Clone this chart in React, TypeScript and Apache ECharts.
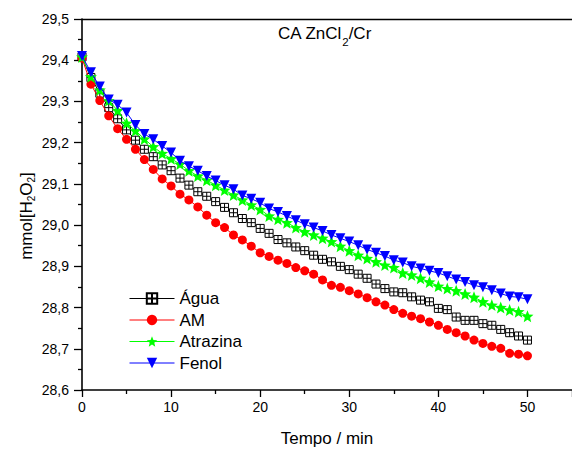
import React, { useEffect, useRef } from 'react';
import * as echarts from 'echarts';

const times = [0, 1, 2, 3, 4, 5, 6, 7, 8, 9, 10, 11, 12, 13, 14, 15, 16, 17, 18, 19, 20, 21, 22, 23, 24, 25, 26, 27, 28, 29, 30, 31, 32, 33, 34, 35, 36, 37, 38, 39, 40, 41, 42, 43, 44, 45, 46, 47, 48, 49, 50];

const agua = [29.408, 29.358, 29.320, 29.285, 29.258, 29.231, 29.206, 29.184, 29.166, 29.146, 29.132, 29.114, 29.097, 29.081, 29.070, 29.057, 29.043, 29.030, 29.016, 29.006, 28.992, 28.980, 28.965, 28.957, 28.947, 28.938, 28.927, 28.917, 28.911, 28.900, 28.892, 28.881, 28.871, 28.857, 28.846, 28.838, 28.836, 28.826, 28.818, 28.814, 28.798, 28.795, 28.777, 28.769, 28.769, 28.761, 28.757, 28.747, 28.739, 28.731, 28.721];

const am = [29.405, 29.342, 29.302, 29.265, 29.234, 29.208, 29.184, 29.159, 29.135, 29.112, 29.095, 29.075, 29.061, 29.044, 29.024, 29.006, 28.994, 28.976, 28.964, 28.949, 28.933, 28.924, 28.915, 28.907, 28.897, 28.889, 28.881, 28.867, 28.854, 28.849, 28.841, 28.833, 28.824, 28.814, 28.806, 28.795, 28.786, 28.779, 28.773, 28.765, 28.757, 28.747, 28.739, 28.731, 28.721, 28.713, 28.706, 28.701, 28.689, 28.687, 28.683];

const atrazina = [29.408, 29.360, 29.328, 29.302, 29.278, 29.247, 29.229, 29.209, 29.190, 29.174, 29.161, 29.148, 29.132, 29.119, 29.109, 29.097, 29.085, 29.073, 29.061, 29.049, 29.038, 29.022, 29.014, 29.006, 28.994, 28.984, 28.976, 28.968, 28.960, 28.949, 28.938, 28.927, 28.919, 28.911, 28.903, 28.897, 28.884, 28.879, 28.871, 28.862, 28.852, 28.846, 28.841, 28.833, 28.825, 28.814, 28.806, 28.800, 28.794, 28.790, 28.779];

const fenol = [29.410, 29.371, 29.336, 29.305, 29.292, 29.273, 29.243, 29.221, 29.208, 29.192, 29.176, 29.156, 29.143, 29.132, 29.119, 29.108, 29.097, 29.087, 29.072, 29.064, 29.054, 29.040, 29.032, 29.022, 29.012, 29.002, 28.994, 28.986, 28.976, 28.968, 28.960, 28.951, 28.941, 28.933, 28.925, 28.915, 28.909, 28.900, 28.895, 28.889, 28.884, 28.876, 28.868, 28.862, 28.854, 28.849, 28.842, 28.834, 28.827, 28.825, 28.820];

const seriesNames = ['Água', 'AM', 'Atrazina', 'Fenol'];
const yTicks = [28.6, 28.7, 28.8, 28.9, 29.0, 29.1, 29.2, 29.3, 29.4, 29.5];
const xTicks = [0, 10, 20, 30, 40, 50];

const FONT = '"Liberation Sans", Arial, sans-serif';

const SQUARE_GRID = 'path://M0,0L10,0L10,10L0,10Z M5,0L5,10 M0,5L10,5';
const STAR = 'path://M50,0L63,33L98,35L71,57L80,92L50,73L20,92L29,57L2,35L37,33Z';
const TRI_DOWN = 'path://M0,0L10,0L5,9Z';

export default function App() {
  const ref = useRef<HTMLDivElement>(null);

  useEffect(() => {
    if (!ref.current) return;
    const chart = echarts.init(ref.current, undefined, { renderer: 'svg' });
    const pairs = (vals: number[]) => times.map((t, i) => [t, vals[i]]);

    const option: any = {
      animation: false,
      backgroundColor: '#ffffff',
      textStyle: { fontFamily: FONT },
      grid: { left: 82, top: 19, width: 497, height: 371, containLabel: false },
      legend: {
        orient: 'vertical',
        left: 129,
        top: 290,
        padding: 0,
        itemWidth: 45,
        itemHeight: 13,
        itemGap: 4.5,
        data: seriesNames,
        lineStyle: { width: 1 },
        textStyle: { fontSize: 17, color: '#000', fontFamily: FONT },
      },
      xAxis: [
        {
          type: 'value',
          min: 0,
          max: 55,
          interval: 10,
          position: 'bottom',
          name: 'Tempo / min',
          nameLocation: 'middle',
          nameGap: 40,
          nameTextStyle: { fontSize: 17, color: '#000', fontFamily: FONT },
          axisLine: { show: true, onZero: false, lineStyle: { color: '#000', width: 1.6 } },
          axisTick: { show: true, inside: false, length: 7, lineStyle: { color: '#000', width: 1.3 } },
          minorTick: { show: true, splitNumber: 2, length: 4, lineStyle: { color: '#000', width: 1.3 } },
          axisLabel: {
            fontSize: 14,
            color: '#000',
            margin: 10,
            fontFamily: FONT,
            showMaxLabel: false,
            formatter: (v: number) => (xTicks.indexOf(v) >= 0 ? String(v) : ''),
          },
          splitLine: { show: false },
        },
        {
          type: 'value',
          min: 0,
          max: 55,
          position: 'top',
          axisLine: { show: true, onZero: false, lineStyle: { color: '#000', width: 1.3 } },
          axisTick: { show: false },
          axisLabel: { show: false },
          splitLine: { show: false },
        },
      ],
      yAxis: {
        type: 'value',
        min: 28.6,
        max: 29.5,
        interval: 0.1,
        axisLine: { show: true, onZero: false, lineStyle: { color: '#000', width: 1.6 } },
        axisTick: { show: true, inside: false, length: 8, lineStyle: { color: '#000', width: 1.3 } },
        minorTick: { show: true, splitNumber: 2, length: 4, lineStyle: { color: '#000', width: 1.3 } },
        axisLabel: {
          fontSize: 14,
          color: '#000',
          margin: 13,
          fontFamily: FONT,
          formatter: (v: number) => {
            const match = yTicks.find((t) => Math.abs(t - v) < 1e-6);
            return match !== undefined ? match.toFixed(1).replace('.', ',') : '';
          },
        },
        splitLine: { show: false },
      },
      series: [
        {
          name: seriesNames[0],
          type: 'line',
          data: pairs(agua),
          symbol: SQUARE_GRID,
          symbolSize: 8,
          lineStyle: { color: '#000', width: 1 },
          itemStyle: { color: '#ffffff', borderColor: '#000', borderWidth: 1 },
          z: 2,
        },
        {
          name: seriesNames[1],
          type: 'line',
          data: pairs(am),
          symbol: 'circle',
          symbolSize: 9,
          lineStyle: { color: '#ff0000', width: 1 },
          itemStyle: { color: '#ff0000', borderWidth: 0 },
          z: 3,
        },
        {
          name: seriesNames[2],
          type: 'line',
          data: pairs(atrazina),
          symbol: STAR,
          symbolSize: 12,
          lineStyle: { color: '#00ff00', width: 1 },
          itemStyle: { color: '#00ff00', borderWidth: 0 },
          z: 4,
        },
        {
          name: seriesNames[3],
          type: 'line',
          data: pairs(fenol),
          symbol: TRI_DOWN,
          symbolSize: 10,
          lineStyle: { color: '#0000ff', width: 1 },
          itemStyle: { color: '#0000ff', borderWidth: 0 },
          z: 5,
        },
      ],
      graphic: [
        {
          type: 'text',
          x: 278,
          y: 33,
          style: {
            text: '{n|CA ZnCl}{s|2}{n|/Cr}',
            align: 'left',
            verticalAlign: 'middle',
            fill: '#000',
            rich: {
              n: { fontSize: 17, lineHeight: 30, fontFamily: FONT, fill: '#000' },
              s: { fontSize: 11.5, lineHeight: 10, verticalAlign: 'bottom', fontFamily: FONT, fill: '#000' },
            },
          },
        },
        {
          type: 'text',
          x: 26,
          y: 216,
          rotation: Math.PI / 2,
          style: {
            text: '{n|mmol[H}{s|2}{n|O}{s|2}{n|]}',
            align: 'center',
            verticalAlign: 'middle',
            fill: '#000',
            rich: {
              n: { fontSize: 17, lineHeight: 20, fontFamily: FONT, fill: '#000' },
              s: { fontSize: 10, lineHeight: 10, verticalAlign: 'bottom', fontFamily: FONT, fill: '#000' },
            },
          },
        },
      ],
    };

    chart.setOption(option);
    return () => chart.dispose();
  }, []);

  return (
    <div
      ref={ref}
      style={{ position: 'fixed', left: 0, top: 0, width: 572, height: 452, background: '#fff' }}
    />
  );
}
